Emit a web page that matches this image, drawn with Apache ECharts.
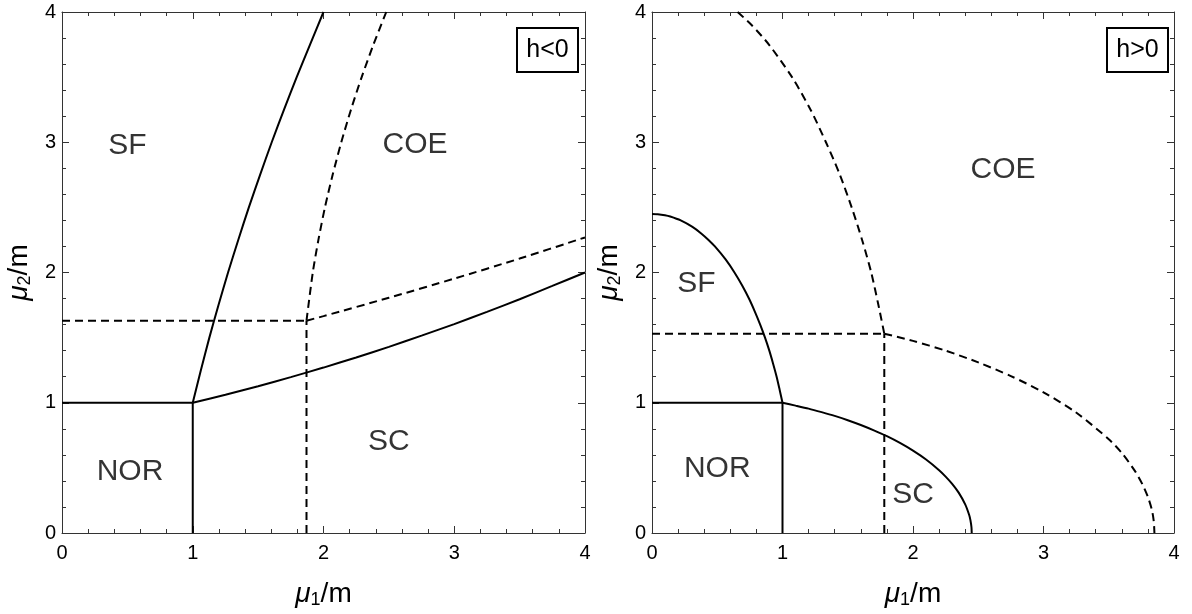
<!DOCTYPE html>
<html>
<head>
<meta charset="utf-8">
<script src="https://cdn.jsdelivr.net/npm/echarts@6/dist/echarts.min.js"></script>
<style>html,body{margin:0;padding:0;background:#fff}#c{width:1192px;height:614px}</style>
</head>
<body>
<div id="c"></div>
<script>
// ---------- data ----------
const tickValues = [0, 1, 2, 3, 4];

// left panel (h<0)
const leftNorH = [[0, 1], [1, 1]];
const leftNorV = [[1, 0], [1, 1]];
const leftSfBoundary = [[1, 1], [1.062, 1.25], [1.127, 1.5], [1.197, 1.75], [1.27, 2], [1.348, 2.25], [1.429, 2.5], [1.515, 2.75], [1.604, 3], [1.698, 3.25], [1.795, 3.5], [1.897, 3.75], [2.0, 4]];
const leftScBoundary = [[1, 1], [1.25, 1.062], [1.5, 1.127], [1.75, 1.197], [2, 1.27], [2.25, 1.348], [2.5, 1.429], [2.75, 1.515], [3, 1.604], [3.25, 1.698], [3.5, 1.795], [3.75, 1.897], [4, 2.0]];
const leftDashH = [[0, 1.63], [1.87, 1.63]];
const leftDashV = [[1.87, 0], [1.87, 1.63]];
const leftDashUp = [[1.87, 1.63], [1.918, 2], [1.961, 2.25], [2.011, 2.5], [2.07, 2.75], [2.136, 3], [2.21, 3.25], [2.292, 3.5], [2.382, 3.75], [2.48, 4]];
const leftDashRight = [[1.87, 1.63], [2, 1.665], [2.5, 1.806], [3, 1.953], [3.5, 2.107], [4, 2.269]];
const leftRegionNames = ['SF', 'COE', 'NOR', 'SC'];
const leftRegionX = [0.50, 2.70, 0.52, 2.50];
const leftRegionY = [2.97, 2.98, 0.47, 0.70];

// right panel (h>0)
const rightNorH = [[0, 1], [1, 1]];
const rightNorV = [[1, 0], [1, 1]];
const rightSfBoundary = [[0, 2.45], [0.044, 2.448], [0.099, 2.44], [0.14, 2.43], [0.22, 2.4], [0.31, 2.35], [0.377, 2.3], [0.433, 2.25], [0.482, 2.2], [0.564, 2.1], [0.632, 2.0], [0.691, 1.9], [0.743, 1.8], [0.788, 1.7], [0.829, 1.6], [0.866, 1.5], [0.899, 1.4], [0.928, 1.3], [0.955, 1.2], [0.978, 1.1], [1.0, 1.0]];
const rightScBoundary = [[1.0, 1.0], [1.1, 0.978], [1.2, 0.955], [1.3, 0.928], [1.4, 0.899], [1.5, 0.866], [1.6, 0.829], [1.7, 0.788], [1.8, 0.743], [1.9, 0.691], [2.0, 0.632], [2.1, 0.564], [2.2, 0.482], [2.25, 0.433], [2.3, 0.377], [2.35, 0.31], [2.4, 0.22], [2.43, 0.14], [2.44, 0.099], [2.448, 0.044], [2.45, 0]];
const rightDashH = [[0, 1.53], [1.78, 1.53]];
const rightDashV = [[1.78, 0], [1.78, 1.53]];
const rightDashUp = [[0.656, 4], [0.763, 3.9], [0.896, 3.75], [1.073, 3.5], [1.215, 3.25], [1.333, 3], [1.44, 2.75], [1.53, 2.5], [1.61, 2.25], [1.68, 2.0], [1.735, 1.75], [1.78, 1.53]];
const rightDashRight = [[1.78, 1.53], [2.0, 1.475], [2.25, 1.4], [2.5, 1.31], [2.75, 1.205], [3.0, 1.08], [3.25, 0.925], [3.5, 0.72], [3.6, 0.615], [3.7, 0.477], [3.76, 0.37], [3.8, 0.277], [3.83, 0.18], [3.845, 0.09], [3.85, 0]];
const rightRegionNames = ['COE', 'SF', 'NOR', 'SC'];
const rightRegionX = [2.69, 0.34, 0.50, 2.0];
const rightRegionY = [2.79, 1.91, 0.49, 0.29];

// ---------- chart ----------
const FONT = 'Liberation Sans, Arial, sans-serif';
const AXC = '#333333';
const nameRich = {
  mu: { fontStyle: 'italic', fontSize: 28, fontFamily: FONT, color: '#000' },
  sub: { fontSize: 18, fontFamily: FONT, color: '#000', padding: [12, 0, 0, 0] },
  n: { fontSize: 28, fontFamily: FONT, color: '#000' }
};
function mkAxis(kind, gridIndex, position, labels, name) {
  const a = {
    type: 'value', gridIndex, position,
    min: tickValues[0], max: tickValues[tickValues.length - 1], interval: 1,
    axisLine: { show: true, onZero: false, lineStyle: { color: AXC, width: 1 } },
    axisTick: { show: true, inside: true, length: 7, lineStyle: { color: AXC } },
    minorTick: { show: true, splitNumber: 5, length: 4, lineStyle: { color: AXC } },
    splitLine: { show: false },
    axisLabel: { show: labels, fontSize: 20, color: '#000', fontFamily: FONT, margin: kind === 'x' ? 10 : 6 }
  };
  if (name) {
    a.name = name;
    a.nameLocation = 'middle';
    a.nameTextStyle = { rich: nameRich };
    if (kind === 'x') { a.nameGap = 46; }
    else { a.nameGap = 28; a.nameRotate = 90; }
  }
  return a;
}
function line(data, xi, dashed) {
  return {
    type: 'line', data, xAxisIndex: xi, yAxisIndex: xi, showSymbol: false, symbol: 'none',
    smooth: data.length > 2 ? 0.25 : false, silent: true, animation: false,
    lineStyle: dashed ? { color: '#000', width: 2, type: [8, 5] } : { color: '#000', width: 2 }
  };
}
function regionLabels(names, xs, ys, xi) {
  return {
    type: 'scatter', xAxisIndex: xi, yAxisIndex: xi, symbolSize: 0, silent: true,
    data: names.map((n, i) => [xs[i], ys[i], n]),
    label: { show: true, position: 'inside', formatter: p => p.value[2], fontSize: 30, color: '#000', fontFamily: FONT }
  };
}
function legendBox(x, y, text) {
  return {
    type: 'group', left: x, top: y, children: [
      { type: 'rect', shape: { x: 0, y: 0, width: 61, height: 44 }, style: { fill: '#fff', stroke: '#000', lineWidth: 2 } },
      { type: 'text', style: { text, x: 30.5, y: 22, align: 'center', verticalAlign: 'middle', fontSize: 25, fontFamily: FONT, fill: '#000' } }
    ]
  };
}
const xName = '{mu|μ}{sub|1}{n|/m}';
const yName = '{mu|μ}{sub|2}{n|/m}';
const option = {
  animation: false,
  backgroundColor: '#fff',
  grid: [
    { left: 62, top: 12, width: 523, height: 522 },
    { left: 652, top: 12, width: 522, height: 522 }
  ],
  xAxis: [
    mkAxis('x', 0, 'bottom', true, xName),
    mkAxis('x', 0, 'top', false),
    mkAxis('x', 1, 'bottom', true, xName),
    mkAxis('x', 1, 'top', false)
  ],
  yAxis: [
    mkAxis('y', 0, 'left', true, yName),
    mkAxis('y', 0, 'right', false),
    mkAxis('y', 1, 'left', true, yName),
    mkAxis('y', 1, 'right', false)
  ],
  graphic: [legendBox(516, 27, 'h<0'), legendBox(1106, 27, 'h>0')],
  series: [
    line(leftNorH, 0, false), line(leftNorV, 0, false),
    line(leftSfBoundary, 0, false), line(leftScBoundary, 0, false),
    line(leftDashH, 0, true), line(leftDashV, 0, true),
    line(leftDashUp, 0, true), line(leftDashRight, 0, true),
    regionLabels(leftRegionNames, leftRegionX, leftRegionY, 0),
    line(rightNorH, 2, false), line(rightNorV, 2, false),
    line(rightSfBoundary, 2, false), line(rightScBoundary, 2, false),
    line(rightDashH, 2, true), line(rightDashV, 2, true),
    line(rightDashUp, 2, true), line(rightDashRight, 2, true),
    regionLabels(rightRegionNames, rightRegionX, rightRegionY, 2)
  ]
};
const chart = echarts.init(document.getElementById('c'), null, { renderer: 'canvas' });
chart.setOption(option);
</script>
</body>
</html>
